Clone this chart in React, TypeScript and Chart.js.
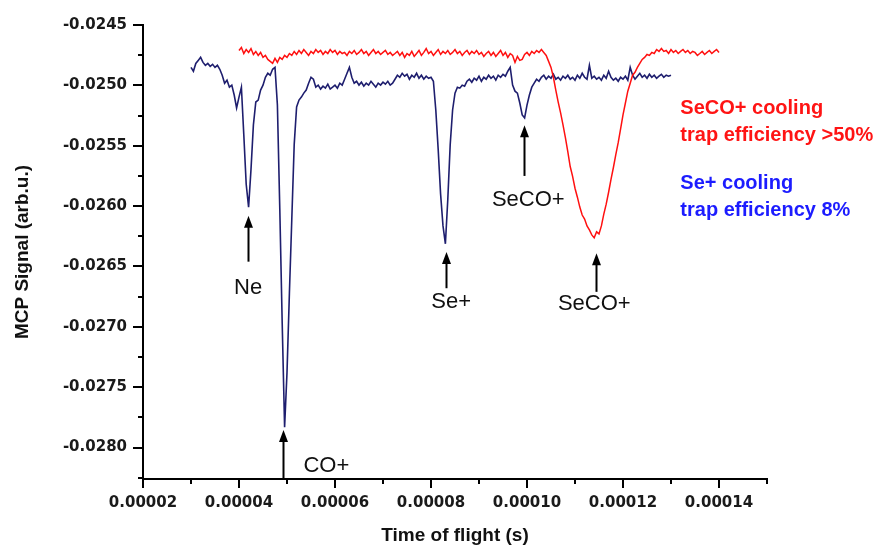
import React, { useEffect, useRef } from 'react';
import { Chart, registerables } from 'chart.js';

Chart.register(...registerables);

// Time of flight in microseconds (converted to seconds for the axis)
const blueTimeUs = [
  30, 30.5, 31, 31.5, 32, 32.5, 33, 33.5, 34, 34.5,
  35, 35.5, 36, 36.5, 37, 37.5, 38, 38.5, 39, 39.5,
  40, 40.5, 41, 41.5, 42, 42.5, 43, 43.5, 44, 44.5,
  45, 45.5, 46, 46.5, 47, 47.5, 48, 48.5, 49, 49.5,
  50, 50.5, 51, 51.5, 52, 52.5, 53, 53.5, 54, 54.5,
  55, 55.5, 56, 56.5, 57, 57.5, 58, 58.5, 59, 59.5,
  60, 60.5, 61, 61.5, 62, 62.5, 63, 63.5, 64, 64.5,
  65, 65.5, 66, 66.5, 67, 67.5, 68, 68.5, 69, 69.5,
  70, 70.5, 71, 71.5, 72, 72.5, 73, 73.5, 74, 74.5,
  75, 75.5, 76, 76.5, 77, 77.5, 78, 78.5, 79, 79.5,
  80, 80.5, 81, 81.5, 82, 82.5, 83, 83.5, 84, 84.5,
  85, 85.5, 86, 86.5, 87, 87.5, 88, 88.5, 89, 89.5,
  90, 90.5, 91, 91.5, 92, 92.5, 93, 93.5, 94, 94.5,
  95, 95.5, 96, 96.5, 97, 97.5, 98, 98.5, 99, 99.5,
  100, 100.5, 101, 101.5, 102, 102.5, 103, 103.5, 104, 104.5,
  105, 105.5, 106, 106.5, 107, 107.5, 108, 108.5, 109, 109.5,
  110, 110.5, 111, 111.5, 112, 112.5, 113, 113.5, 114, 114.5,
  115, 115.5, 116, 116.5, 117, 117.5, 118, 118.5, 119, 119.5,
  120, 120.5, 121, 121.5, 122, 122.5, 123, 123.5, 124, 124.5,
  125, 125.5, 126, 126.5, 127, 127.5, 128, 128.5, 129, 129.5,
  130,
];

// Se+ cooling trace (dark blue)
const blueSignal = [
  -0.024851, -0.024883, -0.024818, -0.024793, -0.024768, -0.02481, -0.024834, -0.024818, -0.024842, -0.024826,
  -0.024851, -0.024834, -0.024867, -0.024916, -0.024982, -0.024957, -0.025015, -0.024998, -0.02508, -0.025187,
  -0.025097, -0.025015, -0.025409, -0.025819, -0.026008, -0.025696, -0.025327, -0.025138, -0.025122, -0.025039,
  -0.024998, -0.024933, -0.0249, -0.024916, -0.024867, -0.024851, -0.025163, -0.026025, -0.026969, -0.027831,
  -0.027379, -0.026722, -0.026107, -0.025491, -0.025179, -0.025122, -0.025097, -0.025064, -0.025039, -0.024982,
  -0.024933, -0.024949, -0.025015, -0.024998, -0.025031, -0.025007, -0.025023, -0.02499, -0.025031, -0.025015,
  -0.024998, -0.025023, -0.024982, -0.024998, -0.024949, -0.0249, -0.024851, -0.024933, -0.024982, -0.024966,
  -0.024998, -0.024974, -0.025007, -0.024982, -0.024998, -0.024966, -0.02499, -0.025015, -0.024982, -0.024998,
  -0.024974, -0.02499, -0.024966, -0.024998, -0.024982, -0.024949, -0.024916, -0.024933, -0.0249, -0.024924,
  -0.024908, -0.024949, -0.024916, -0.024933, -0.0249, -0.024941, -0.024916, -0.024949, -0.024924, -0.024941,
  -0.024933, -0.024966, -0.025204, -0.025532, -0.025901, -0.026164, -0.026312, -0.025943, -0.025491, -0.025204,
  -0.025064, -0.025015, -0.025023, -0.024998, -0.025007, -0.024966, -0.024949, -0.024974, -0.024941, -0.024957,
  -0.024924, -0.024966, -0.024933, -0.024949, -0.024916, -0.024941, -0.024924, -0.024957, -0.024916, -0.024933,
  -0.024908, -0.024924, -0.024883, -0.024851, -0.024998, -0.025048, -0.025064, -0.025146, -0.025245, -0.025269,
  -0.025163, -0.02508, -0.025015, -0.024982, -0.024949, -0.024966, -0.024933, -0.024916, -0.024949, -0.024924,
  -0.024941, -0.024908, -0.024949, -0.024933, -0.024957, -0.024924, -0.024941, -0.024916, -0.024949, -0.024933,
  -0.024957, -0.024916, -0.024941, -0.0249, -0.024933, -0.024949, -0.024834, -0.024941, -0.024924, -0.024949,
  -0.024933, -0.024957, -0.024916, -0.024941, -0.024883, -0.024933, -0.024957, -0.024941, -0.024966, -0.024933,
  -0.024949, -0.024924, -0.024957, -0.024851, -0.024916, -0.024949, -0.024924, -0.0249, -0.024933, -0.024916,
  -0.024941, -0.024908, -0.024933, -0.024916, -0.024941, -0.024924, -0.024908, -0.024933, -0.024916, -0.024924,
  -0.024916,
];

const redTimeUs = [
  40, 40.5, 41, 41.5, 42, 42.5, 43, 43.5, 44, 44.5,
  45, 45.5, 46, 46.5, 47, 47.5, 48, 48.5, 49, 49.5,
  50, 50.5, 51, 51.5, 52, 52.5, 53, 53.5, 54, 54.5,
  55, 55.5, 56, 56.5, 57, 57.5, 58, 58.5, 59, 59.5,
  60, 60.5, 61, 61.5, 62, 62.5, 63, 63.5, 64, 64.5,
  65, 65.5, 66, 66.5, 67, 67.5, 68, 68.5, 69, 69.5,
  70, 70.5, 71, 71.5, 72, 72.5, 73, 73.5, 74, 74.5,
  75, 75.5, 76, 76.5, 77, 77.5, 78, 78.5, 79, 79.5,
  80, 80.5, 81, 81.5, 82, 82.5, 83, 83.5, 84, 84.5,
  85, 85.5, 86, 86.5, 87, 87.5, 88, 88.5, 89, 89.5,
  90, 90.5, 91, 91.5, 92, 92.5, 93, 93.5, 94, 94.5,
  95, 95.5, 96, 96.5, 97, 97.5, 98, 98.5, 99, 99.5,
  100, 100.5, 101, 101.5, 102, 102.5, 103, 103.5, 104, 104.5,
  105, 105.5, 106, 106.5, 107, 107.5, 108, 108.5, 109, 109.5,
  110, 110.5, 111, 111.5, 112, 112.5, 113, 113.5, 114, 114.5,
  115, 115.5, 116, 116.5, 117, 117.5, 118, 118.5, 119, 119.5,
  120, 120.5, 121, 121.5, 122, 122.5, 123, 123.5, 124, 124.5,
  125, 125.5, 126, 126.5, 127, 127.5, 128, 128.5, 129, 129.5,
  130, 130.5, 131, 131.5, 132, 132.5, 133, 133.5, 134, 134.5,
  135, 135.5, 136, 136.5, 137, 137.5, 138, 138.5, 139, 139.5,
  140,
];

// SeCO+ cooling trace (red)
const redSignal = [
  -0.024711, -0.024686, -0.024736, -0.024703, -0.024727, -0.024695, -0.024744, -0.024719, -0.024752, -0.024727,
  -0.024768, -0.024752, -0.024785, -0.024801, -0.024818, -0.024777, -0.02481, -0.024768, -0.024785, -0.024752,
  -0.024768, -0.024736, -0.024752, -0.024719, -0.024744, -0.024711, -0.024736, -0.024703, -0.024727, -0.024752,
  -0.024719, -0.024736, -0.024703, -0.024727, -0.024711, -0.024744, -0.024719, -0.024736, -0.024703, -0.024727,
  -0.024711, -0.024744, -0.024719, -0.024736, -0.024727, -0.024752, -0.024719, -0.024736, -0.024711, -0.024744,
  -0.024727, -0.024703, -0.024736, -0.024719, -0.024752, -0.024727, -0.024703, -0.024736, -0.024719, -0.024744,
  -0.024727, -0.024711, -0.024744, -0.024727, -0.024752, -0.024736, -0.024719, -0.024752, -0.024727, -0.024768,
  -0.024736, -0.024752, -0.024719, -0.02476, -0.024736, -0.024711, -0.024752, -0.024727, -0.024695, -0.024736,
  -0.024719, -0.024752, -0.024727, -0.024703, -0.024744, -0.024719, -0.024736, -0.024711, -0.024744, -0.024727,
  -0.024703, -0.024736, -0.024719, -0.024752, -0.024727, -0.024711, -0.024744, -0.024719, -0.024736, -0.024711,
  -0.024744, -0.024727, -0.02476, -0.024736, -0.024719, -0.024752, -0.024727, -0.02476, -0.024736, -0.024711,
  -0.024752, -0.024727, -0.024768, -0.024736, -0.024752, -0.02481, -0.02476, -0.024793, -0.024785, -0.024744,
  -0.024727, -0.024752, -0.024719, -0.024736, -0.024711, -0.024727, -0.024703, -0.024727, -0.024752, -0.024801,
  -0.024851, -0.024933, -0.025039, -0.025138, -0.025228, -0.025327, -0.025433, -0.025548, -0.025672, -0.025754,
  -0.025852, -0.025926, -0.026008, -0.026074, -0.026107, -0.026164, -0.026197, -0.026238, -0.026263, -0.026213,
  -0.02623, -0.026164, -0.026066, -0.025984, -0.025885, -0.025778, -0.02568, -0.025573, -0.025475, -0.02536,
  -0.025245, -0.025146, -0.025048, -0.024982, -0.024916, -0.024892, -0.024851, -0.024818, -0.024785, -0.024768,
  -0.024744, -0.024752, -0.024727, -0.024736, -0.024703, -0.024719, -0.024695, -0.024719, -0.024711, -0.024736,
  -0.024703, -0.024727, -0.024711, -0.024736, -0.024719, -0.024703, -0.024727, -0.024711, -0.024736, -0.024719,
  -0.024727, -0.024752, -0.024736, -0.024719, -0.024744, -0.024727, -0.024711, -0.024736, -0.024719, -0.024703,
  -0.024727,
];

// Axis ranges and ticks
const xMin = 0.00002;
const xMax = 0.00015;
const xMinorStep = 0.00001;
const yMin = -0.02826;
const yMax = -0.0245;
const yMinorStep = 0.00025;

// Peak annotations (arrows + labels), in data coordinates
const peakLabels = ['Ne', 'CO+', 'Se+', 'SeCO+', 'SeCO+'];
const arrowX = [0.0000419, 0.00004925, 0.0000832, 0.00009945, 0.00011445];
const arrowTipY = [-0.02608, -0.027855, -0.02638, -0.02533, -0.02639];
const arrowTailY = [-0.02646, -0.02826, -0.02668, -0.02575, -0.02671];
const peakLabelX = [0.0000419, 0.0000582, 0.0000842, 0.00010027, 0.00011402];
const peakLabelY = [-0.02668, -0.02815, -0.02679, -0.02595, -0.02681];

// Side notes
const noteLines = ['SeCO+ cooling', 'trap efficiency >50%', 'Se+ cooling', 'trap efficiency 8%'];
const noteColors = ['#ff1414', '#ff1414', '#1c1cff', '#1c1cff'];
const noteX = 0.00013194;
const noteY = [-0.025195, -0.025417, -0.025811, -0.026033];

const overlayPlugin = {
  id: 'overlay',
  afterDraw(chart: any) {
    const { ctx } = chart;
    const xs = chart.scales.x;
    const ys = chart.scales.y;
    ctx.save();
    // tick marks (major longer than minor)
    ctx.strokeStyle = '#000';
    ctx.lineWidth = 2;
    xs.ticks.forEach((t: any) => {
      const px = Math.round(xs.getPixelForValue(t.value));
      const len = t.label !== '' ? 9 : 5;
      ctx.beginPath();
      ctx.moveTo(px, xs.top);
      ctx.lineTo(px, xs.top + len);
      ctx.stroke();
    });
    ys.ticks.forEach((t: any) => {
      const py = Math.round(ys.getPixelForValue(t.value));
      const len = t.label !== '' ? 10 : 5;
      ctx.beginPath();
      ctx.moveTo(ys.right, py);
      ctx.lineTo(ys.right - len, py);
      ctx.stroke();
    });

    // arrows
    for (let i = 0; i < peakLabels.length; i++) {
      const ax = Math.round(xs.getPixelForValue(arrowX[i])) + 0.5;
      const tip = ys.getPixelForValue(arrowTipY[i]);
      const tail = ys.getPixelForValue(arrowTailY[i]);
      ctx.strokeStyle = '#000';
      ctx.fillStyle = '#000';
      ctx.lineWidth = 2;
      ctx.beginPath();
      ctx.moveTo(ax, tail);
      ctx.lineTo(ax, tip + 8);
      ctx.stroke();
      ctx.beginPath();
      ctx.moveTo(ax, tip);
      ctx.lineTo(ax - 4.5, tip + 12);
      ctx.lineTo(ax + 4.5, tip + 12);
      ctx.closePath();
      ctx.fill();
      ctx.font = '22px "Liberation Sans", Arial, sans-serif';
      ctx.textAlign = 'center';
      ctx.textBaseline = 'middle';
      ctx.fillStyle = '#111';
      ctx.fillText(peakLabels[i], xs.getPixelForValue(peakLabelX[i]), ys.getPixelForValue(peakLabelY[i]));
    }

    // side notes
    ctx.font = 'bold 20px "Liberation Sans", Arial, sans-serif';
    ctx.textAlign = 'left';
    ctx.textBaseline = 'middle';
    for (let i = 0; i < noteLines.length; i++) {
      ctx.fillStyle = noteColors[i];
      ctx.fillText(noteLines[i], xs.getPixelForValue(noteX), ys.getPixelForValue(noteY[i]));
    }
    ctx.restore();
  },
};

export default function App() {
  const canvasRef = useRef<HTMLCanvasElement | null>(null);

  useEffect(() => {
    const canvas = canvasRef.current;
    if (!canvas) return;
    const bluePoints = blueTimeUs.map((t, i) => ({ x: t * 1e-6, y: blueSignal[i] }));
    const redPoints = redTimeUs.map((t, i) => ({ x: t * 1e-6, y: redSignal[i] }));

    const tickFont = { family: '"DejaVu Sans", sans-serif', size: 15, weight: 'bold' };

    const chart = new Chart(canvas, {
      type: 'line',
      data: {
        datasets: [
          {
            label: 'SeCO+ cooling',
            data: redPoints,
            borderColor: '#ff1010',
            borderWidth: 1.5,
            pointRadius: 0,
            tension: 0,
            fill: false,
          },
          {
            label: 'Se+ cooling',
            data: bluePoints,
            borderColor: '#1e1e6e',
            borderWidth: 1.6,
            pointRadius: 0,
            tension: 0,
            fill: false,
          },
        ],
      },
      options: {
        animation: false,
        responsive: false,
        maintainAspectRatio: false,
        devicePixelRatio: 1,
        layout: { padding: { left: 0, top: 19, right: 121, bottom: 0 } },
        plugins: {
          legend: { display: false },
          tooltip: { enabled: false },
        },
        scales: {
          x: {
            type: 'linear',
            min: xMin,
            max: xMax,
            grid: { display: false, drawTicks: false },
            border: { display: true, color: '#000', width: 2 },
            ticks: {
              stepSize: xMinorStep,
              autoSkip: false,
              maxRotation: 0,
              padding: 15,
              color: '#1a1a1a',
              font: tickFont,
              callback: (v: any) => {
                const k = Math.round(Number(v) / xMinorStep);
                if (k % 2 !== 0) return '';
                return (k * xMinorStep).toFixed(5);
              },
            },
            title: {
              display: true,
              text: 'Time of flight (s)',
              color: '#111',
              font: { family: '"Liberation Sans", Arial, sans-serif', size: 19, weight: 'bold' },
              padding: { top: 0, bottom: 6 },
            },
            afterFit: (scale: any) => {
              scale.height = 74;
            },
          },
          y: {
            type: 'linear',
            min: yMin,
            max: yMax,
            grid: { display: false, drawTicks: false },
            border: { display: true, color: '#000', width: 2 },
            ticks: {
              stepSize: yMinorStep,
              includeBounds: false,
              autoSkip: false,
              padding: 16,
              color: '#1a1a1a',
              font: tickFont,
              callback: (v: any) => {
                const k = Math.round(Number(v) / yMinorStep);
                if (k % 2 !== 0) return '';
                return (k * yMinorStep).toFixed(4);
              },
            },
            title: {
              display: true,
              text: 'MCP Signal (arb.u.)',
              color: '#111',
              font: { family: '"Liberation Sans", Arial, sans-serif', size: 19, weight: 'bold' },
              padding: { top: 11, bottom: 0 },
            },
            afterFit: (scale: any) => {
              scale.width = 143;
            },
          },
        },
      } as any,
      plugins: [overlayPlugin],
    });

    return () => {
      chart.destroy();
    };
  }, []);

  return (
    <div style={{ position: 'absolute', left: 0, top: 0, width: 888, height: 553, background: '#fff' }}>
      <canvas ref={canvasRef} width={888} height={553} style={{ display: 'block' }} />
    </div>
  );
}
